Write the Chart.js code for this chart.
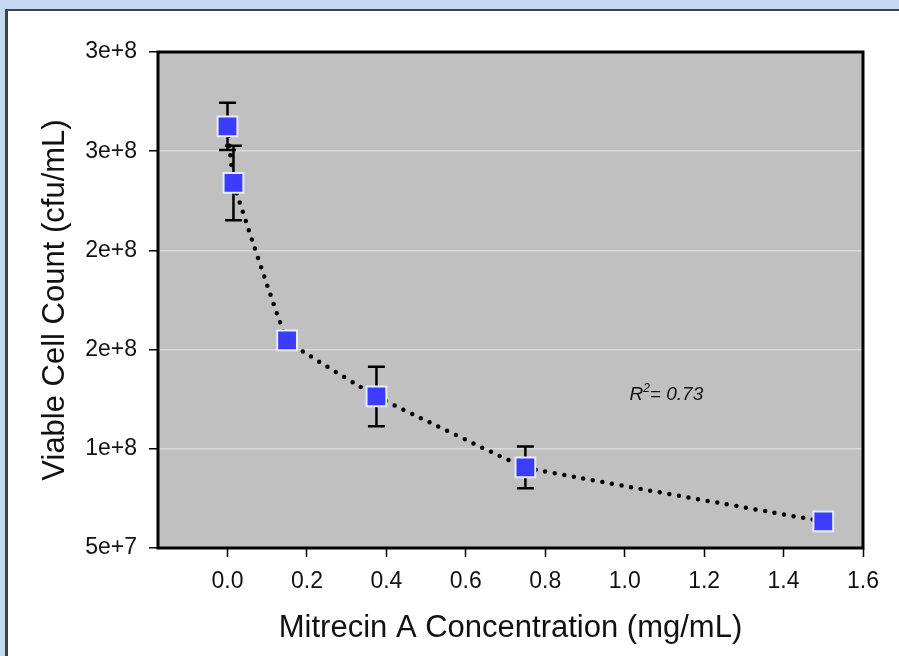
<!DOCTYPE html>
<html>
<head>
<meta charset="utf-8">
<script src="https://cdn.jsdelivr.net/npm/chart.js@4.4.0/dist/chart.umd.min.js"></script>
<style>
  html, body { margin: 0; padding: 0; background: #c6d9f0; overflow: hidden; }
  .panel { position: absolute; left: 5px; top: 9px; width: 900px; height: 660px; background: #fff; border-top: 2px solid #3d4250; border-left: 3px solid #3d4250; }
  .wrap { position: absolute; left: 0; top: 0; width: 899px; height: 656px; }
</style>
</head>
<body>
<div class="panel"></div>
<div class="wrap"><canvas id="c" width="899" height="656"></canvas></div>
<script>
// concentration (mg/mL) vs viable cell count (cfu/mL)
const conc = [0, 0.015, 0.15, 0.375, 0.75, 1.5];
const counts = [2.625e8, 2.34e8, 1.546e8, 1.264e8, 9.06e7, 6.34e7];
const errs = [1.19e7, 1.88e7, 3e6, 1.5e7, 1.05e7, 2e6];
const xTicks = [0, 0.2, 0.4, 0.6, 0.8, 1.0, 1.2, 1.4, 1.6];
const yTicks = [5e7, 1e8, 1.5e8, 2e8, 2.5e8, 3e8];
const rSquared = '0.73';

const FONT = "'Liberation Sans', Arial, sans-serif";
const pts = conc.map((x, i) => ({ x, y: counts[i] }));

const plotBg = {
  id: 'plotBg',
  beforeDraw(chart) {
    const { ctx, chartArea: a } = chart;
    ctx.save();
    ctx.fillStyle = '#c0c0c0';
    ctx.fillRect(a.left, a.top, a.right - a.left, a.bottom - a.top);
    ctx.restore();
  },
  afterDraw(chart) {
    const { ctx, chartArea: a, scales } = chart;
    ctx.save();
    ctx.strokeStyle = '#000';
    ctx.lineWidth = 3;
    ctx.strokeRect(a.left, a.top, a.right - a.left, a.bottom - a.top);
    // R^2 note
    const x = scales.x.getPixelForValue(1.012), y = scales.y.getPixelForValue(1.247e8);
    ctx.fillStyle = '#111';
    ctx.textBaseline = 'alphabetic';
    ctx.font = 'italic 19px ' + FONT;
    ctx.fillText('R', x, y);
    let w = ctx.measureText('R').width;
    ctx.font = 'italic 12px ' + FONT;
    ctx.fillText('2', x + w, y - 8);
    w += ctx.measureText('2').width;
    ctx.font = 'italic 19px ' + FONT;
    ctx.fillText('= ' + rSquared, x + w, y);
    ctx.restore();
  }
};

const errorBars = {
  id: 'errorBars',
  beforeDatasetsDraw(chart) {
    const { ctx, scales } = chart;
    ctx.save();
    ctx.strokeStyle = '#000';
    ctx.lineWidth = 2.5;
    conc.forEach((c, i) => {
      const px = scales.x.getPixelForValue(c);
      const top = scales.y.getPixelForValue(counts[i] + errs[i]);
      const bot = scales.y.getPixelForValue(counts[i] - errs[i]);
      ctx.beginPath();
      ctx.moveTo(px, top); ctx.lineTo(px, bot);
      ctx.moveTo(px - 8.5, top); ctx.lineTo(px + 8.5, top);
      ctx.moveTo(px - 8.5, bot); ctx.lineTo(px + 8.5, bot);
      ctx.stroke();
    });
    ctx.restore();
  }
};

new Chart(document.getElementById('c'), {
  type: 'scatter',
  data: {
    datasets: [
      {
        data: pts, showLine: true, pointRadius: 0, borderColor: '#000', borderWidth: 4.5,
        borderDash: [0, 9.7], borderCapStyle: 'round', tension: 0.05, order: 2
      },
      {
        data: pts, showLine: false, pointStyle: 'rect', pointRadius: 14, pointHoverRadius: 14,
        backgroundColor: '#3c3cff', borderColor: '#e4ecff', borderWidth: 2, order: 1
      }
    ]
  },
  options: {
    responsive: false,
    animation: false,
    events: [],
    layout: { padding: { top: 52, right: 36, left: 0, bottom: 0 } },
    plugins: { legend: { display: false }, tooltip: { enabled: false } },
    scales: {
      x: {
        type: 'linear', min: -0.175, max: 1.6,
        afterBuildTicks: s => { s.ticks = xTicks.map(v => ({ value: v })); },
        afterFit: s => { s.height = 108; },
        grid: { drawOnChartArea: false, tickLength: 9, tickColor: '#000', tickWidth: 1.5 },
        border: { display: false },
        ticks: { padding: 11, color: '#111', font: { family: FONT, size: 23 }, callback: v => v.toFixed(1) },
        title: { display: true, text: 'Mitrecin A Concentration (mg/mL)', color: '#111', font: { family: FONT, size: 31 }, padding: { top: 0, bottom: 9 } }
      },
      y: {
        type: 'linear', min: 5e7, max: 3e8,
        afterBuildTicks: s => { s.ticks = yTicks.map(v => ({ value: v })); },
        afterFit: s => { s.width = 158; },
        grid: { color: '#dadada', lineWidth: 1.5, tickLength: 9, tickColor: '#000', tickWidth: 1.5 },
        border: { display: false },
        ticks: { padding: 12, color: '#111', font: { family: FONT, size: 23 }, callback: v => v.toExponential(0) },
        title: { display: true, text: 'Viable Cell Count (cfu/mL)', color: '#111', font: { family: FONT, size: 31 }, padding: { top: 37, bottom: 0 } }
      }
    }
  },
  plugins: [plotBg, errorBars]
});
</script>
</body>
</html>
